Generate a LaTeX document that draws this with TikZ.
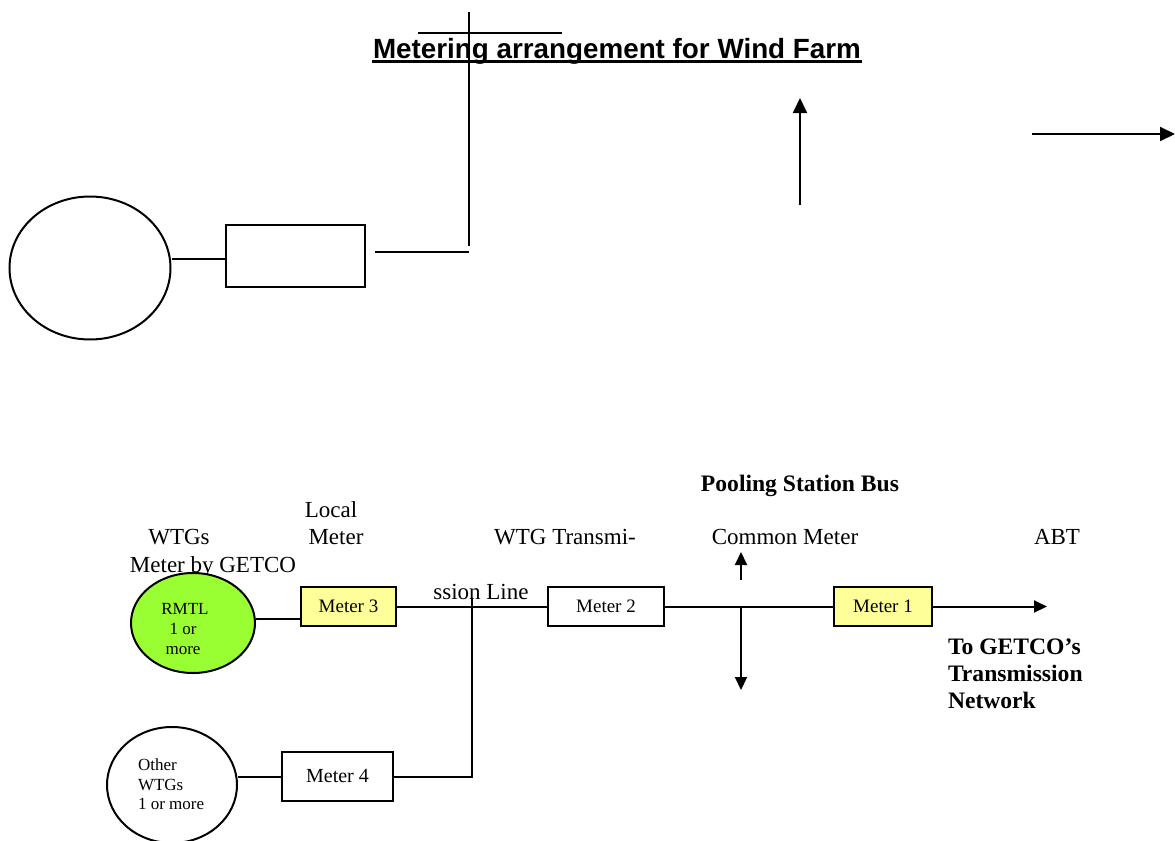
\documentclass[tikz,border=0pt]{standalone}
\usepackage{fontspec}
\setmainfont{Liberation Serif}
\newfontfamily\arialfont{Liberation Sans}
\usetikzlibrary{shapes.geometric,arrows.meta}
\definecolor{meteryellow}{RGB}{255,255,153}
\definecolor{rmtlgreen}{RGB}{153,255,51}

\begin{document}
\begin{tikzpicture}[x=0.5pt, y=-0.5pt, line width=1pt,
    gen/.style = {draw, ellipse, inner sep=0pt},
    meter/.style = {draw, rectangle, inner sep=0pt, font=\fontsize{9.5}{11}\selectfont},
    txt/.style = {inner sep=0pt, anchor=base, font=\fontsize{11.5}{14}\selectfont},
    bold/.style = {txt, font=\fontsize{11.8}{14}\selectfont\bfseries},
    small/.style = {inner sep=0pt, anchor=base, font=\fontsize{8.5}{10}\selectfont},
    tip/.style = {-{Triangle[length=6.5pt, width=6pt]}},
    bigtip/.style = {-{Triangle[length=7.5pt, width=7pt]}}]

    \useasboundingbox (0,0) rectangle (1175,841);

    \node[inner sep=0pt, anchor=base, font=\arialfont\fontsize{13.9}{16}\selectfont\bfseries] (title) at (617,58) {Metering arrangement for Wind Farm};
    \draw[line width=1.2pt] ([yshift=-1.8pt]title.base west) -- ([yshift=-1.8pt]title.base east);

    % upper sketch
    \node[gen, minimum width=80.5pt, minimum height=71.5pt] (g0) at (90,268) {};
    \node[draw, rectangle, minimum width=69.5pt, minimum height=31pt] (b0) at (295.5,256) {};
    \draw ([yshift=-1.5pt]b0.west) -- ([yshift=-1.5pt]b0.west -| g0.east);

    \coordinate (s1) at (418,33);
    \coordinate (s2) at (562,33);
    \coordinate (s3) at (469,12);
    \coordinate (s4) at (469,246);
    \coordinate (s5) at (375,252);
    \coordinate (s6) at (469,252);
    \draw (s1) -- (s2);
    \draw (s3) -- (s4);
    \draw (s5) -- (s6);

    \coordinate (a1) at (800,205);
    \coordinate (a2) at (800,98);
    \coordinate (a3) at (1032,134);
    \coordinate (a4) at (1175,134);
    \draw[bigtip] (a1) -- (a2);
    \draw[bigtip] (a3) -- (a4);

    % labels
    \node[txt] (wtgs) at (179,544) {WTGs};
    \node[txt] (getco) at (213,572) {Meter by GETCO};
    \node[txt] (local) at (331,517) {Local};
    \node[txt] (lmeter) at (336,544) {Meter};
    \node[txt] (trans1) at (565,544) {WTG Transmi-};
    \node[txt] (trans2) at (481,599) {ssion Line};
    \node[txt] (common) at (785,544) {Common Meter};
    \node[txt] (abt) at (1057,544) {ABT};
    \node[bold] (pool) at (800,491) {Pooling Station Bus};
    \node[bold, anchor=base west] (to1) at (947,654) {To GETCO’s};
    \node[bold, anchor=base west] (to2) at (947,681) {Transmission};
    \node[bold, anchor=base west] (to3) at (947,708) {Network};

    % generators and meters
    \node[gen, fill=rmtlgreen, minimum width=62pt, minimum height=50pt] (rmtl) at (193,623) {};
    \node[small] at (185,614) {RMTL};
    \node[small] at (183,634) {1 or};
    \node[small] at (183,654) {more};

    \node[gen, minimum width=65pt, minimum height=58pt] (other) at (172,785) {};
    \node[small, anchor=base west] at (137,770) {Other};
    \node[small, anchor=base west] at (137,790) {WTGs};
    \node[small, anchor=base west] at (137,809) {1 or more};

    \node[meter, fill=meteryellow, minimum width=47.5pt, minimum height=19.5pt] (m3) at (348.5,606.5) {Meter 3};
    \node[meter, minimum width=58pt, minimum height=19.5pt] (m2) at (606,606.5) {Meter 2};
    \node[meter, fill=meteryellow, minimum width=49pt, minimum height=19.5pt] (m1) at (883,606.5) {Meter 1};
    \node[meter, minimum width=55.5pt, minimum height=24.5pt, font=\fontsize{10}{12}\selectfont] (m4) at (337.5,776.5) {Meter 4};

    \coordinate (jtop) at (472,598);
    \coordinate (busup) at (741,580);
    \coordinate (bustop) at (741,552);
    \coordinate (bus) at (741,606.5);
    \coordinate (busbot) at (741,690);
    \coordinate (out) at (1047,606.5);

    \draw ([yshift=-6pt]m3.west) -- ([yshift=-6pt]m3.west -| rmtl.east);
    \draw (m3.east) -- (m2.west);
    \draw (m2.east) -- (m1.west);
    \draw[tip] (m1.east) -- (out);
    \draw (other.east |- m4.west) -- (m4.west);
    \draw (m4.east) -- (m4.east -| jtop) -- (jtop);
    \draw[tip] (busup) -- (bustop);
    \draw[tip] (bus) -- (busbot);

\end{tikzpicture}
\end{document}
